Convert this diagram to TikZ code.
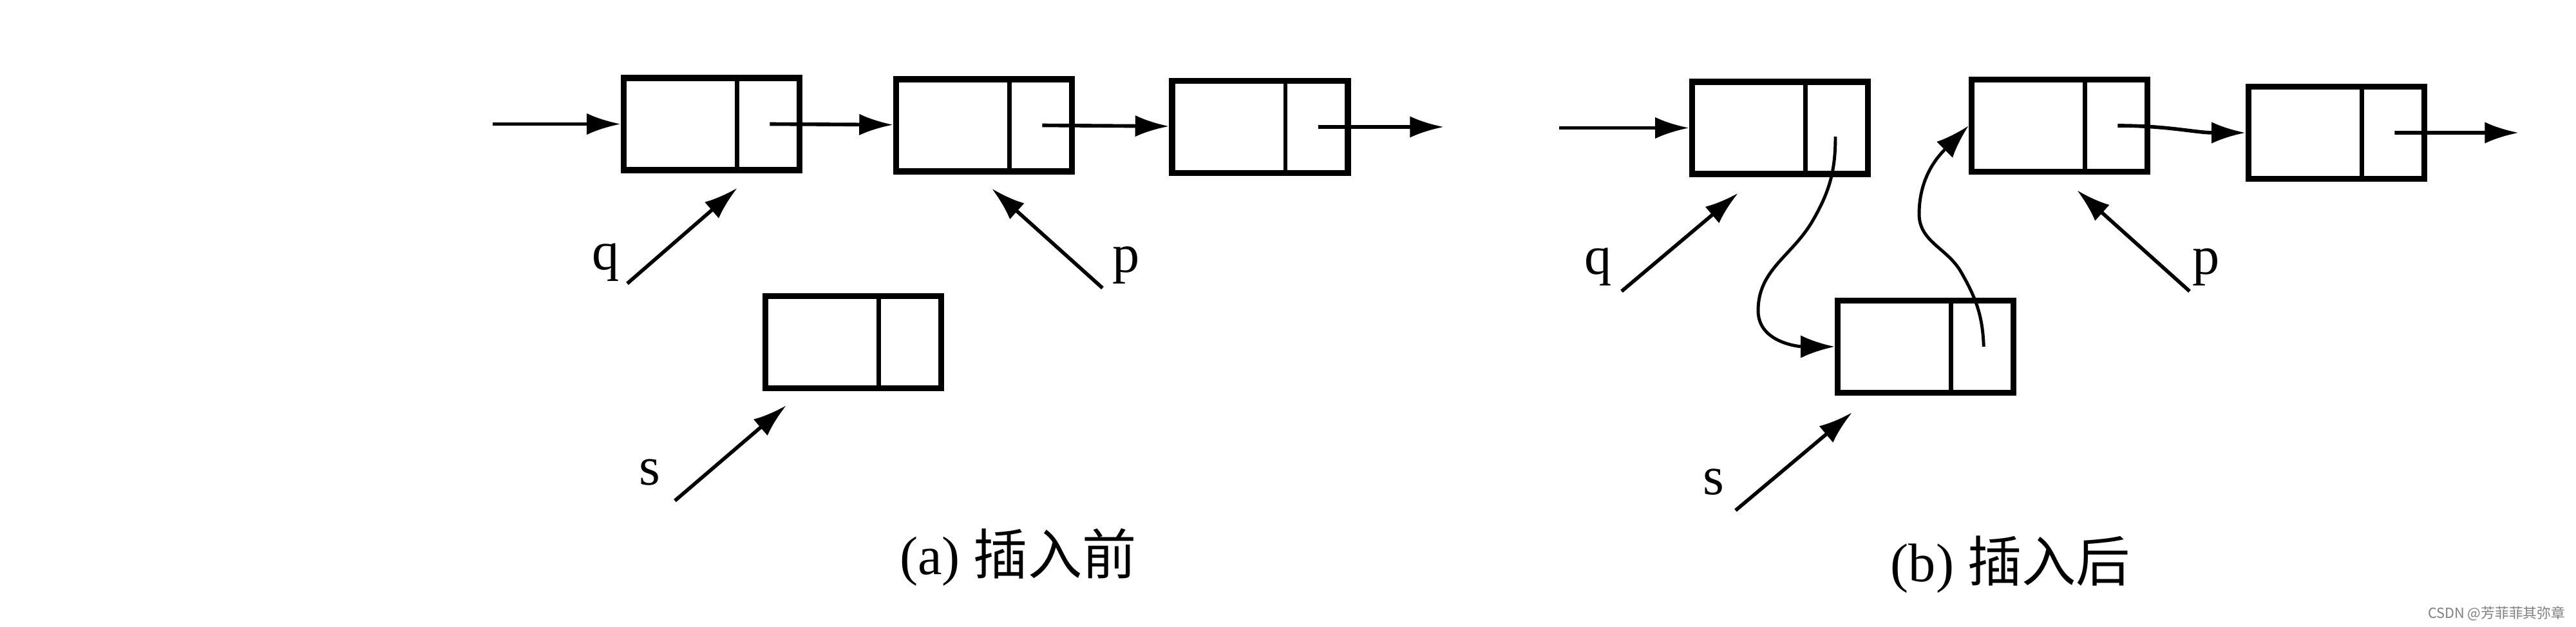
\documentclass[tikz,border=0pt]{standalone}
\usepackage{fontspec}
\setmainfont{Liberation Serif}
\newfontfamily\cjkfont{Noto Sans CJK SC}
\usetikzlibrary{arrows.meta,calc}
\newcommand\celldiv[1]{%
  \draw[divider] ($(#1.north west)!0.64!(#1.north east)$) -- ($(#1.south west)!0.64!(#1.south east)$);
  \coordinate (#1p) at ($(#1.west)!0.82!(#1.east)$);}
\begin{document}
\begin{tikzpicture}[
  x=1cm,y=1cm,
  cell/.style={draw, line width=2.6pt, minimum width=2.73cm, minimum height=1.43cm, inner sep=0pt},
  divider/.style={line width=1.8pt},
  link/.style={line width=1.6pt, -{Latex[length=15pt,width=9.5pt]}},
  curvelink/.style={line width=1.4pt, -{Latex[length=15pt,width=10pt]}},
  lbl/.style={font=\fontsize{24}{28}\selectfont, inner sep=0pt, anchor=base},
  captext/.style={font=\fontsize{24}{28}\selectfont, inner sep=0pt, anchor=base},
  wmark/.style={font=\cjkfont\fontsize{6.2}{7}\selectfont, text=gray, anchor=base east, inner sep=0pt}
]
\fill[white] (0,0) rectangle (40,9.72);
\useasboundingbox (0,0) rectangle (40,9.72);

% ---------- (a) before insertion ----------
\node[cell] (A1) at (11.05,7.795) {};
\node[cell] (A2) at (15.28,7.775) {};
\node[cell] (A3) at (19.565,7.75) {};
\node[cell] (Sa) at (13.25,4.41) {};
\celldiv{A1}\celldiv{A2}\celldiv{A3}\celldiv{Sa}

\coordinate (ina) at (7.65,7.795);
\coordinate (outa) at (22.42,7.75);
\draw[link] (ina) -- (A1);
\draw[link] (A1p) -- (A2);
\draw[link] (A2p) -- (A3);
\draw[link] (A3p) -- (outa);

\node[lbl] (qa) at (9.41,5.54) {q};
\node[lbl] (pa) at (17.49,5.50) {p};
\node[lbl] (sa) at (10.09,2.20) {s};
\coordinate (qa0) at (9.74,5.32);
\coordinate (pa0) at (17.12,5.25);
\coordinate (sa0) at (10.48,1.95);
\draw[link] (qa0) -- ([shift={(0.40,-0.23)}]A1.south);
\draw[link] (pa0) -- ([shift={(0.12,-0.22)}]A2.south);
\draw[link] (sa0) -- ([shift={(-1.04,-0.22)}]Sa.south);

\node[captext] (capa) at (15.81,0.81) {(a) {\cjkfont 插入前}};

% ---------- (b) after insertion ----------
\node[cell] (B1) at (27.64,7.735) {};
\node[cell] (B2) at (31.98,7.77) {};
\node[cell] (B3) at (36.28,7.66) {};
\node[cell] (Sb) at (29.90,4.34) {};
\celldiv{B1}\celldiv{B2}\celldiv{B3}\celldiv{Sb}

\coordinate (inb) at (24.21,7.735);
\coordinate (outb) at (39.11,7.66);
\draw[link] (inb) -- (B1);
\draw[link] (B2p) to[out=0,in=180] (B3.west);
\draw[link] (B3p) -- (outb);

\coordinate (c1s) at (28.50,7.60);
\coordinate (c1a) at (28.15,6.30);
\coordinate (c1b) at (27.30,4.90);
\draw[curvelink] (c1s) to[out=-90,in=60] (c1a) to[out=-120,in=90] (c1b) to[out=-90,in=180] (Sb.west);
\coordinate (c2a) at (30.45,5.50);
\coordinate (c2b) at (29.80,6.40);
\draw[curvelink] (Sbp) to[out=92,in=-60] (c2a) to[out=120,in=-90] (c2b) to[out=90,in=-135] (B2.west);

\node[lbl] (qb) at (24.82,5.47) {q};
\node[lbl] (pb) at (34.26,5.47) {p};
\node[lbl] (sb) at (26.61,2.05) {s};
\coordinate (qb0) at (25.18,5.20);
\coordinate (pb0) at (34.00,5.20);
\coordinate (sb0) at (26.95,1.80);
\draw[link] (qb0) -- ([shift={(-0.65,-0.25)}]B1.south);
\draw[link] (pb0) -- ([shift={(0.27,-0.24)}]B2.south);
\draw[link] (sb0) -- ([shift={(-1.14,-0.26)}]Sb.south);

\node[captext] (capb) at (31.22,0.70) {(b) {\cjkfont 插入后}};

\node[wmark] (wm) at (39.84,0.13) {CSDN @芳菲菲其弥章};
\end{tikzpicture}
\end{document}
